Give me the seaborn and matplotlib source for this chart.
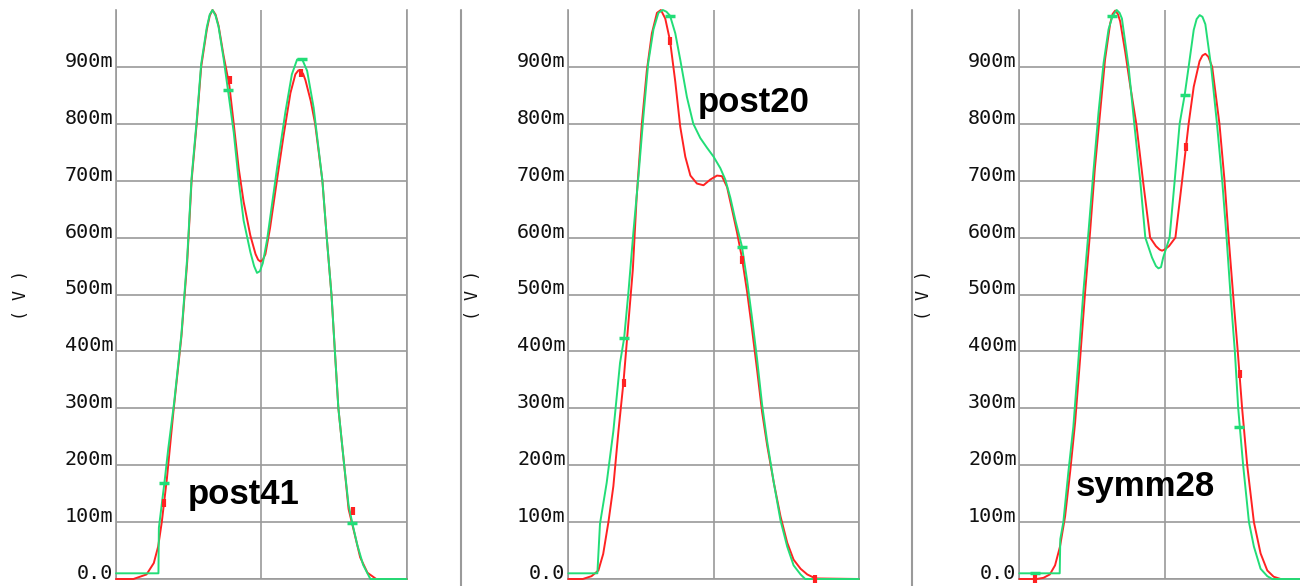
import numpy as np
import pandas as pd
import matplotlib
matplotlib.use("Agg")
import matplotlib.pyplot as plt
from matplotlib.lines import Line2D
from matplotlib.ticker import MultipleLocator, FixedLocator
import seaborn as sns

# %% data (x in minor-tick units, 20 per panel; y in V)
post41_red_x = [0, 1.2, 2.1, 2.6, 2.9, 3.15, 3.5, 3.95, 4.5, 4.9, 5.2, 5.55, 5.86, 6.25, 6.45,
                6.64, 6.85, 7.06, 7.4, 7.8, 8.1, 8.44, 8.78, 9.24, 9.6, 9.78, 9.93, 10.1, 10.28,
                10.6, 11.08, 11.54, 12.0, 12.34, 12.55, 12.7, 12.87, 13.03, 13.4, 13.7, 14.2,
                14.5, 14.83, 15.06, 15.3, 15.7, 16.0, 16.37, 16.8, 17.3, 17.9, 20]
post41_red_y = [0, 0, 0.008, 0.028, 0.057, 0.10, 0.176, 0.294, 0.426, 0.558, 0.70, 0.80, 0.90,
                0.966, 0.99, 1.0, 0.992, 0.972, 0.92, 0.867, 0.80, 0.722, 0.663, 0.604, 0.571,
                0.561, 0.558, 0.561, 0.571, 0.617, 0.702, 0.781, 0.854, 0.887, 0.894, 0.893,
                0.888, 0.877, 0.84, 0.80, 0.70, 0.60, 0.498, 0.40, 0.30, 0.20, 0.123, 0.084,
                0.038, 0.011, 0, 0]
post41_grn_x = [0, 2.92, 2.95, 3.33, 3.6, 4.0, 4.5, 4.9, 5.2, 5.55, 5.86, 6.25, 6.45, 6.64, 6.85,
                7.06, 7.4, 7.7, 8.1, 8.44, 8.78, 9.24, 9.5, 9.7, 9.9, 10.1, 10.4, 11.08, 11.65,
                12.1, 12.46, 12.8, 13.15, 13.6, 14.2, 14.5, 14.83, 15.06, 15.3, 15.7, 16.0,
                16.25, 16.6, 17.0, 17.5, 20]
post41_grn_y = [0.01, 0.01, 0.09, 0.169, 0.23, 0.31, 0.43, 0.565, 0.705, 0.805, 0.905, 0.97,
                0.992, 1.0, 0.99, 0.97, 0.915, 0.86, 0.785, 0.70, 0.63, 0.575, 0.55, 0.538,
                0.541, 0.555, 0.597, 0.722, 0.82, 0.887, 0.913, 0.914, 0.893, 0.828, 0.70, 0.60,
                0.498, 0.40, 0.30, 0.20, 0.13, 0.099, 0.06, 0.025, 0, 0]

post20_red_x = [0, 1.0, 1.6, 2.07, 2.4, 2.76, 3.1, 3.45, 3.8, 4.14, 4.44, 4.7, 5.06, 5.4, 5.75,
                6.1, 6.37, 6.67, 7.0, 7.36, 7.7, 8.05, 8.4, 8.85, 9.3, 9.77, 10.23, 10.57,
                10.92, 11.26, 11.6, 11.95, 12.3, 12.64, 12.99, 13.33, 13.68, 14.14, 14.6,
                15.06, 15.5, 15.98, 16.44, 17.0, 20]
post20_red_y = [0, 0, 0.005, 0.015, 0.044, 0.10, 0.163, 0.26, 0.347, 0.452, 0.544, 0.67, 0.80,
                0.893, 0.959, 0.995, 1.0, 0.985, 0.946, 0.874, 0.795, 0.742, 0.709, 0.695, 0.692,
                0.702, 0.709, 0.708, 0.689, 0.65, 0.61, 0.564, 0.505, 0.439, 0.367, 0.294,
                0.235, 0.169, 0.11, 0.064, 0.034, 0.018, 0.008, 0.001, 0]
post20_grn_x = [0, 2.0, 2.18, 2.64, 3.1, 3.56, 3.84, 4.14, 4.48, 4.83, 5.17, 5.5, 5.86, 6.2, 6.5,
                6.75, 7.0, 7.36, 7.7, 8.16, 8.6, 9.08, 9.54, 10.0, 10.46, 10.8, 11.15, 11.5,
                11.95, 12.3, 12.64, 12.99, 13.33, 13.68, 14.14, 14.6, 15.06, 15.5, 15.98, 16.3,
                20]
post20_grn_y = [0.01, 0.01, 0.097, 0.169, 0.26, 0.38, 0.423, 0.505, 0.61, 0.709, 0.814, 0.907,
                0.966, 0.995, 1.0, 0.997, 0.99, 0.959, 0.913, 0.847, 0.80, 0.775, 0.758, 0.742,
                0.722, 0.702, 0.67, 0.63, 0.584, 0.525, 0.459, 0.386, 0.307, 0.242, 0.169,
                0.103, 0.057, 0.024, 0.008, 0, 0]

symm28_red_x = [0, 1.2, 1.66, 2.1, 2.46, 2.8, 3.15, 3.5, 3.84, 4.18, 4.53, 4.87, 5.2, 5.56, 5.9,
                6.25, 6.42, 6.6, 6.78, 6.94, 7.29, 7.63, 8.05, 8.51, 9.0, 9.4, 9.65, 9.82, 10.0,
                10.3, 10.74, 11.2, 11.65, 12.0, 12.4, 12.6, 12.8, 13.0, 13.27, 13.77, 14.12,
                14.4, 14.71, 15.03, 15.33, 15.68, 16.14, 16.6, 17.06, 17.5, 17.98, 20]
symm28_red_y = [0, 0, 0.002, 0.008, 0.024, 0.057, 0.11, 0.189, 0.275, 0.386, 0.505, 0.61, 0.722,
                0.82, 0.913, 0.976, 0.993, 0.999, 0.993, 0.98, 0.926, 0.867, 0.80, 0.70, 0.60,
                0.585, 0.579, 0.577, 0.579, 0.585, 0.60, 0.70, 0.80, 0.865, 0.91, 0.92, 0.923,
                0.918, 0.90, 0.80, 0.70, 0.60, 0.50, 0.40, 0.30, 0.20, 0.10, 0.045, 0.015,
                0.004, 0, 0]
symm28_grn_x = [0, 2.78, 2.82, 3.03, 3.38, 3.72, 4.07, 4.41, 4.76, 5.1, 5.45, 5.8, 6.14, 6.41,
                6.7, 6.9, 7.06, 7.52, 7.91, 8.32, 8.67, 9.13, 9.4, 9.57, 9.75, 9.9, 10.34, 10.69,
                11.03, 11.38, 11.65, 12.0, 12.2, 12.41, 12.6, 12.8, 13.2, 13.6, 13.96, 14.26,
                14.53, 14.83, 15.06, 15.4, 15.8, 16.14, 16.6, 17.06, 17.4, 20]
symm28_grn_y = [0.01, 0.01, 0.07, 0.10, 0.189, 0.268, 0.386, 0.505, 0.61, 0.716, 0.82, 0.907,
                0.966, 0.989, 1.0, 0.995, 0.985, 0.90, 0.80, 0.70, 0.60, 0.565, 0.55, 0.546,
                0.548, 0.565, 0.60, 0.70, 0.80, 0.851, 0.90, 0.965, 0.984, 0.991, 0.988, 0.975,
                0.90, 0.80, 0.70, 0.60, 0.50, 0.40, 0.30, 0.20, 0.10, 0.057, 0.018, 0.005, 0, 0]

# marker positions on the traces
post41_red_mk = ([3.33, 7.82, 12.7, 16.3], [0.133, 0.877, 0.89, 0.12])
post41_grn_mk = ([3.33, 7.68, 12.8, 16.25], [0.169, 0.86, 0.914, 0.099])
post20_red_mk = ([3.8, 7.0, 11.95, 17.0], [0.345, 0.946, 0.56, 0.0])
post20_grn_mk = ([3.84, 7.0, 11.95], [0.423, 0.99, 0.584])
symm28_red_mk = ([1.1, 11.45, 15.2], [0.0, 0.76, 0.36])
symm28_grn_mk = ([1.1, 6.41, 11.38, 15.1], [0.01, 0.989, 0.851, 0.268])

panel_names = ["post41", "post20", "symm28"]
ytick_vals = [0.0, 0.1, 0.2, 0.3, 0.4, 0.5, 0.6, 0.7, 0.8, 0.9]
ytick_labels = ["0.0", "100m", "200m", "300m", "400m", "500m", "600m", "700m", "800m", "900m"]
xtick_vals = [0, 10, 20]
xtick_labels = ["0.0", "5n", "10n"]

RED = "#ff2222"
GRN = "#22dd77"
GRID = "#9a9a9a"

panels = [
    (post41_red_x, post41_red_y, post41_grn_x, post41_grn_y, post41_red_mk, post41_grn_mk),
    (post20_red_x, post20_red_y, post20_grn_x, post20_grn_y, post20_red_mk, post20_grn_mk),
    (symm28_red_x, symm28_red_y, symm28_grn_x, symm28_grn_y, symm28_red_mk, symm28_grn_mk),
]
name_pos = [(4.95, 0.148), (8.9, 0.837), (3.9, 0.163)]

# %% layout (pixels in a 1300x586 canvas)
W, H = 1300, 586
ax_left = [116, 568.3, 1019.3]
ax_w = 290.7
ax_top, ax_bot = 10, 579

sns.set_style("white")
plt.rcParams['font.family'] = ['DejaVu Sans']

fig = plt.figure(figsize=(W / 100, H / 100), dpi=100)

for i, (rx, ry, gx, gy, rmk, gmk) in enumerate(panels):
    ax = fig.add_axes([ax_left[i] / W, (H - ax_bot) / H, ax_w / W, (ax_bot - ax_top) / H])
    df = pd.concat([
        pd.DataFrame({'t': rx, 'v': ry, 'trace': 'red'}),
        pd.DataFrame({'t': gx, 'v': gy, 'trace': 'green'}),
    ])
    sns.lineplot(data=df, x='t', y='v', hue='trace', palette={'red': RED, 'green': GRN},
                 sort=False, estimator=None, legend=False, ax=ax, linewidth=1.4,
                 clip_on=False, zorder=3)
    sns.scatterplot(x=gmk[0], y=gmk[1], marker='_', s=60, color=GRN, linewidth=2.5,
                    ax=ax, zorder=4, clip_on=False)
    sns.scatterplot(x=rmk[0], y=rmk[1], marker='|', s=35, color=RED, linewidth=3,
                    ax=ax, zorder=4, clip_on=False)

    ax.set_xlim(0, 20)
    ax.set_ylim(0, 1.0)
    ax.xaxis.set_major_locator(FixedLocator(xtick_vals))
    ax.set_xticklabels(xtick_labels)
    ax.xaxis.set_minor_locator(MultipleLocator(1))
    ax.yaxis.set_major_locator(FixedLocator(ytick_vals))
    ax.set_yticklabels(ytick_labels)
    ax.yaxis.set_minor_locator(MultipleLocator(0.02))
    ax.grid(True, which='major', color=GRID, linewidth=1.2)
    ax.set_axisbelow(True)
    ax.tick_params(which='major', length=0, labelsize=14.5, pad=2, labelcolor='#111111')
    ax.tick_params(axis='x', which='major', pad=4)
    ax.tick_params(which='minor', direction='in', length=3, width=1, color=GRID)
    for lab in ax.get_yticklabels() + ax.get_xticklabels():
        lab.set_family('DejaVu Sans Mono')
    for lab in ax.get_yticklabels():
        lab.set_verticalalignment('baseline')

    for side in ['left', 'bottom', 'right']:
        ax.spines[side].set_color(GRID)
        ax.spines[side].set_linewidth(1.2)
    ax.spines['top'].set_visible(False)

    ax.set_xlabel('')
    ax.set_ylabel('( V )', fontsize=12, family='DejaVu Sans Mono', color='#111111')
    ax.yaxis.set_label_coords(-0.296, 0.5)

    nx, ny = name_pos[i]
    ax.text(nx, ny, panel_names[i], fontsize=25, fontweight='bold', family='Liberation Sans',
            color='black', ha='left', va='center', zorder=5)

# window borders between the panels
for xp in [460.5, 911.5]:
    fig.add_artist(Line2D([xp / W, xp / W], [0, (H - 10) / H], color=GRID, linewidth=1.5))

fig.savefig('out.png', dpi=100)
